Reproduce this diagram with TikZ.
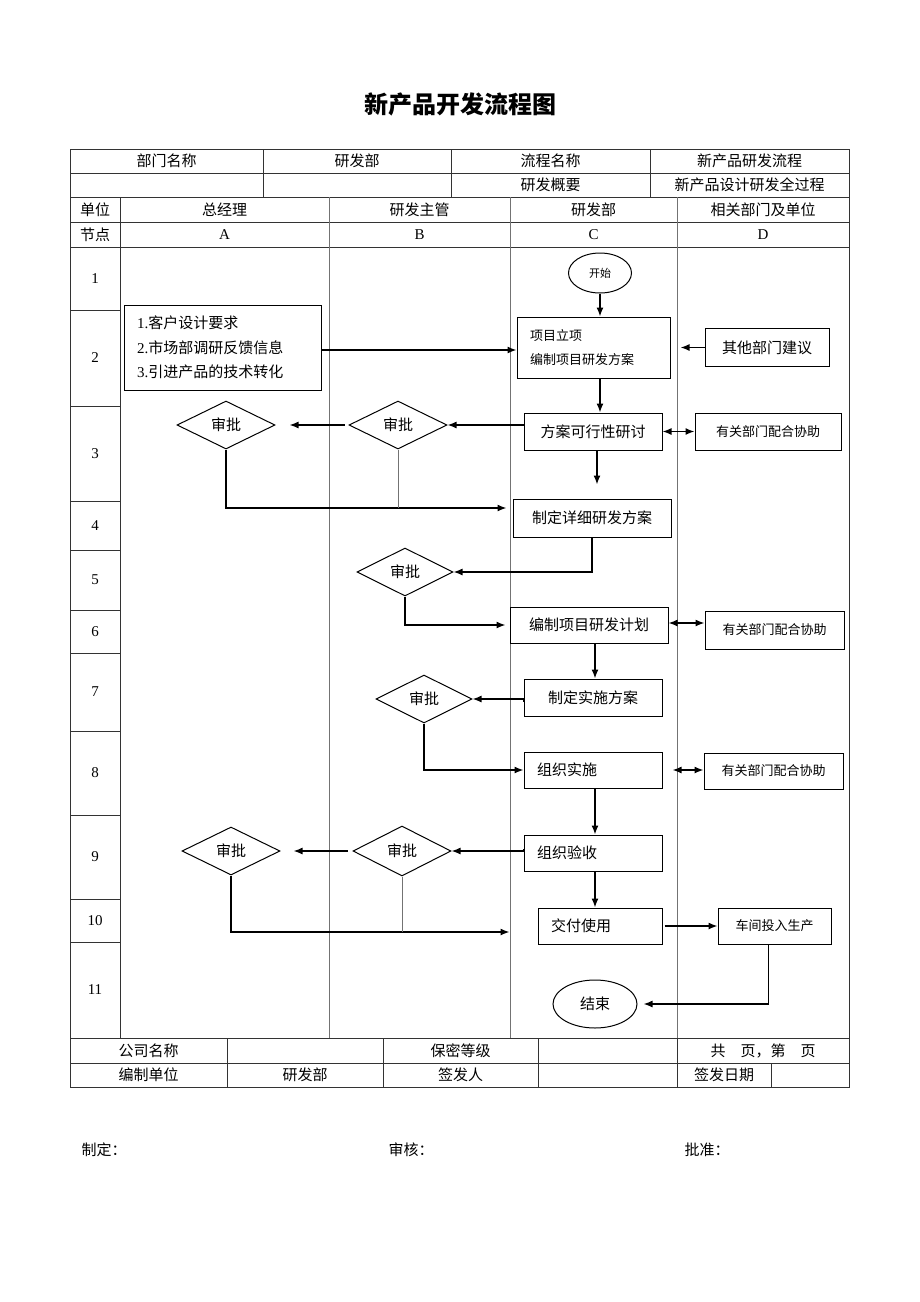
\documentclass[tikz,border=0pt]{standalone}
\usepackage{fontspec}
\setmainfont{Noto Sans CJK SC}
\newfontfamily\lat{Liberation Serif}
\usetikzlibrary{shapes.geometric,arrows.meta}

\begin{document}
\begin{tikzpicture}[x=1pt,y=-1pt,>={Latex[length=9pt,width=7pt]},
  every node/.style={font=\fontsize{15}{18}\selectfont},
  small/.style={font=\fontsize{13}{16}\selectfont},
  grid/.style={line width=0.9pt,black!80},
  lane/.style={line width=0.9pt,black!55},
  box/.style={draw,line width=1pt,inner sep=0pt},
  lbox/.style={box,inner xsep=13pt,align=left},
  dec/.style={diamond,draw,line width=1pt,inner sep=0pt,minimum width=98pt,minimum height=48pt},
  term/.style={ellipse,draw,line width=1pt,inner sep=0pt},
  flow/.style={line width=1.4pt}]
  \useasboundingbox (0,0) rectangle (920,1302);

  \node[font=\fontsize{24}{28}\selectfont\bfseries] (title) at (460,104) {新产品开发流程图};

  % table
  \draw[grid] (70,149) rectangle (849,1087);
  \foreach \y in {173,197,222,247,1038,1063}
    \draw[grid] (70,\y) -- (849,\y);
  \foreach \x in {263,451,650}
    \draw[grid] (\x,149) -- (\x,197);
  \draw[grid] (120,197) -- (120,1038);
  \foreach \x in {329,510,677}
    \draw[lane] (\x,197) -- (\x,1038);
  \foreach \y in {310,406,501,550,610,653,731,815,899,942}
    \draw[grid] (70,\y) -- (120,\y);
  \foreach \x in {227,383,538,677}
    \draw[grid] (\x,1038) -- (\x,1087);
  \draw[grid] (771,1063) -- (771,1087);

  \node (dept) at (166.5,161) {部门名称};
  \node (deptv) at (357,161) {研发部};
  \node (proc) at (550.5,161) {流程名称};
  \node (procv) at (749.5,161) {新产品研发流程};
  \node (summ) at (550.5,185) {研发概要};
  \node (summv) at (749.5,185) {新产品设计研发全过程};
  \node (unit) at (95,209.5) {单位};
  \node (ua) at (224.5,209.5) {总经理};
  \node (ub) at (419.5,209.5) {研发主管};
  \node (uc) at (593.5,209.5) {研发部};
  \node (ud) at (763,209.5) {相关部门及单位};
  \node (pt) at (95,234.5) {节点};
  \foreach \x/\n in {224.5/A,419.5/B,593.5/C,763/D}
    \node (p\n) at (\x,234.5) {\lat \n};
  \foreach \y/\n in {278.5/1,358/2,453.5/3,525.5/4,580/5,631.5/6,692/7,773/8,857/9,920.5/10,990/11}
    \node (r\n) at (95,\y) {\lat \n};

  \node (co) at (148.5,1050.5) {公司名称};
  \node (sec) at (460.5,1050.5) {保密等级};
  \node (page) at (763,1050.5) {共\quad 页，第\quad 页};
  \node (mk) at (148.5,1075) {编制单位};
  \node (mkv) at (305,1075) {研发部};
  \node (iss) at (460.5,1075) {签发人};
  \node (date) at (724,1075) {签发日期};

  \node[anchor=west] (s1) at (78,1150) {制定：};
  \node[anchor=west] (s2) at (385,1150) {审核：};
  \node[anchor=west] (s3) at (681,1150) {批准：};

  % flow
  \node[term,minimum width=63pt,minimum height=40pt,font=\fontsize{11}{13}\selectfont] (start) at (600,273) {开始};
  \node[lbox,small,text width=127pt,minimum height=61pt] (plan) at (593.5,347.5)
    {项目立项\\[8pt]编制项目研发方案};
  \node[lbox,text width=171pt,minimum height=85pt] (req) at (222.5,347.5)
    {{\lat 1.}客户设计要求\\[6.5pt]{\lat 2.}市场部调研反馈信息\\[6.5pt]{\lat 3.}引进产品的技术转化};
  \node[box,minimum width=124pt,minimum height=38pt] (other) at (767,347.5) {其他部门建议};
  \node[box,minimum width=138pt,minimum height=37pt] (study) at (593,431.5) {方案可行性研讨};
  \node[box,small,minimum width=146pt,minimum height=37pt] (help1) at (768,431.5) {有关部门配合协助};
  \node[dec] (aprA1) at (226,425) {审批};
  \node[dec] (aprB1) at (398,425) {审批};
  \node[box,minimum width=158pt,minimum height=38pt] (detail) at (592,518) {制定详细研发方案};
  \node[dec,minimum width=96pt] (aprB2) at (405,572) {审批};
  \node[box,minimum width=158pt,minimum height=36pt] (rdplan) at (589,625) {编制项目研发计划};
  \node[box,small,minimum width=139pt,minimum height=38pt] (help2) at (774.5,630) {有关部门配合协助};
  \node[box,minimum width=138pt,minimum height=37pt] (impl) at (593,697.5) {制定实施方案};
  \node[dec,minimum width=96pt] (aprB3) at (424,699) {审批};
  \node[lbox,text width=112pt,minimum height=36pt] (org) at (593,770) {组织实施};
  \node[box,small,minimum width=139pt,minimum height=36pt] (help3) at (773.5,771) {有关部门配合协助};
  \node[lbox,text width=112pt,minimum height=36pt] (accept) at (593,853) {组织验收};
  \node[dec,minimum height=50pt] (aprB4) at (402,851) {审批};
  \node[dec] (aprA2) at (231,851) {审批};
  \node[lbox,text width=98pt,minimum height=36pt] (deliver) at (600,926) {交付使用};
  \node[box,small,minimum width=113pt,minimum height=36pt] (shop) at (774.5,926) {车间投入生产};
  \node[term,minimum width=84pt,minimum height=48pt] (finish) at (595,1004) {结束};

  \coordinate (j1) at ([yshift=10pt]detail.west);
  \coordinate (j2) at ([xshift=-28pt,yshift=-6pt]deliver.west);

  \draw[->,flow] (start.south) -- (start.south |- plan.north);
  \draw[->,flow] ([yshift=-2.5pt]req.east) -- ([yshift=-2.5pt]req.east -| plan.west);
  \draw[->,flow,shorten >=10pt] (other.west) -- (plan.east);
  \draw[->,flow] ([xshift=6.5pt]plan.south) -- ([xshift=6.5pt]plan.south |- study.north);
  \draw[->,flow] (aprB1.east -| study.west) -- (aprB1.east);
  \draw[<->,flow] (study.east) -- (help1.west);
  \draw[->,flow,shorten <=4pt,shorten >=14pt] (aprB1.west) -- (aprA1.east);
  \draw[->,flow,shorten >=6pt] (aprA1.south) |- (j1);
  \draw[lane] (aprB1.south) -- (aprB1.south |- j1);
  \draw[->,flow,shorten >=14pt] ([xshift=4pt]study.south) -- ([xshift=4pt]study.south |- detail.north);
  \draw[->,flow] (detail.south) |- (aprB2.east);
  \draw[->,flow,shorten >=4pt] (aprB2.south) |- (rdplan.west);
  \draw[<->,flow] ([yshift=2pt]rdplan.east) -- ([yshift=2pt]rdplan.east -| help2.west);
  \draw[->,flow] ([xshift=2pt]impl.north |- rdplan.south) -- ([xshift=2pt]impl.north);
  \draw[->,flow,shorten <=4pt] (impl.west) -- (aprB3.east -| impl.west) -- (aprB3.east);
  \draw[->,flow] (aprB3.south) |- (org.west);
  \draw[<->,flow,shorten <=10pt] (org.east) -- (org.east -| help3.west);
  \draw[->,flow] ([xshift=2pt]org.south) -- ([xshift=2pt]accept.north);
  \draw[->,flow,shorten <=4pt] (accept.west) -- (aprB4.east -| accept.west) -- (aprB4.east);
  \draw[->,flow,shorten <=5pt,shorten >=13pt] (aprB4.west) -- (aprA2.east);
  \draw[->,flow] (aprA2.south) |- (j2);
  \draw[lane] (aprB4.south) -- (aprB4.south |- j2);
  \draw[->,flow] ([xshift=2pt]accept.south) -- ([xshift=2pt]accept.south |- deliver.north);
  \draw[->,flow,shorten <=2pt] (deliver.east) -- (shop.west);
  \draw[->,flow,shorten >=6pt] ([xshift=-6pt]shop.south) |- (finish.east);
\end{tikzpicture}
\end{document}
